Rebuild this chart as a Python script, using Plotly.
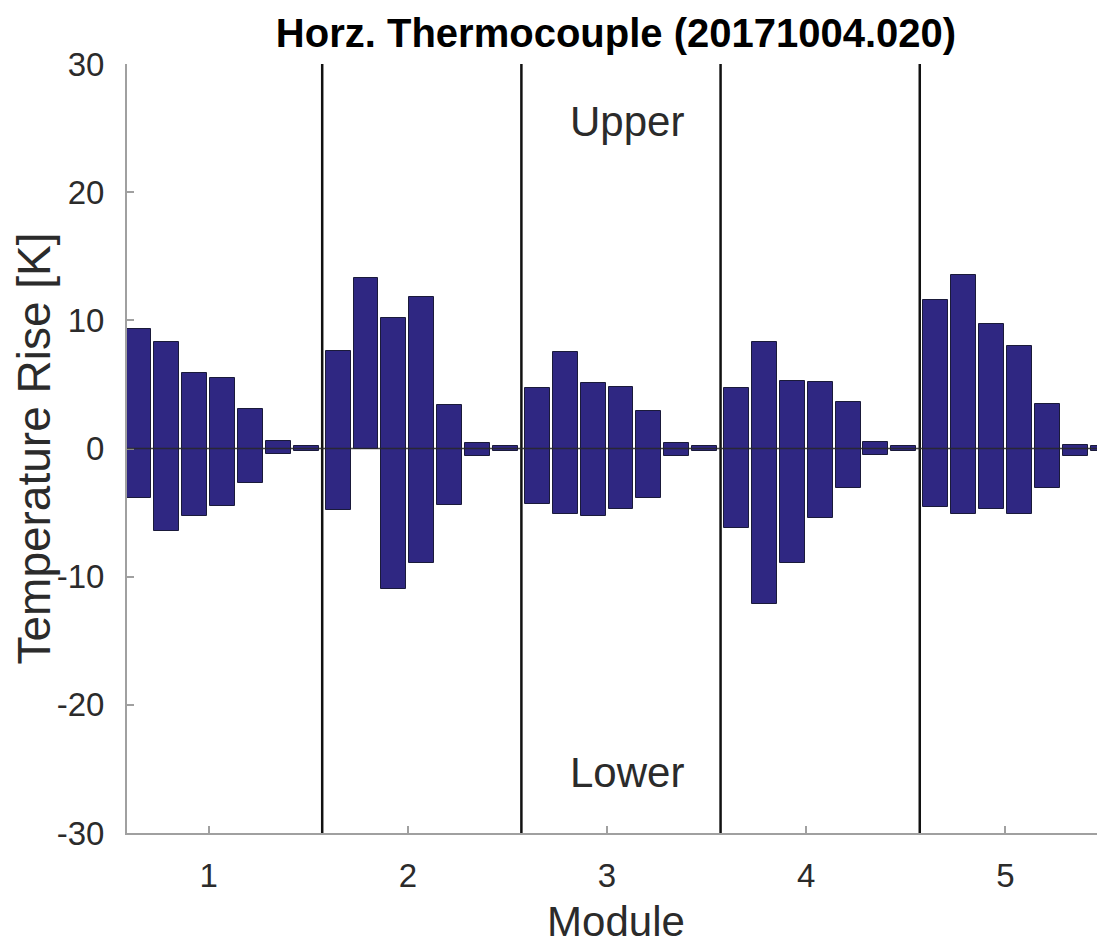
import plotly.graph_objects as go

modules = [1, 2, 3, 4, 5]
module_labels = ["1", "2", "3", "4", "5"]
y_ticks = [-30, -20, -10, 0, 10, 20, 30]
y_tick_labels = ["-30", "-20", "-10", "0", "10", "20", "30"]

upper_m1 = [9.3, 8.3, 5.9, 5.5, 3.1, 0.6, 0.2]
lower_m1 = [-3.9, -6.4, -5.3, -4.5, -2.7, -0.4, -0.2]
upper_m2 = [7.6, 13.3, 10.2, 11.8, 3.4, 0.4, 0.2]
lower_m2 = [-4.8, 0.0, -11.0, -8.9, -4.4, -0.6, -0.2]
upper_m3 = [4.7, 7.5, 5.1, 4.8, 2.9, 0.4, 0.2]
lower_m3 = [-4.3, -5.1, -5.3, -4.7, -3.9, -0.6, -0.2]
upper_m4 = [4.7, 8.3, 5.3, 5.2, 3.6, 0.5, 0.2]
lower_m4 = [-6.2, -12.1, -8.9, -5.4, -3.1, -0.5, -0.2]
upper_m5 = [11.6, 13.5, 9.7, 8.0, 3.5, 0.3, 0.2]
lower_m5 = [-4.6, -5.1, -4.7, -5.1, -3.1, -0.6, -0.2]

uppers = [upper_m1, upper_m2, upper_m3, upper_m4, upper_m5]
lowers = [lower_m1, lower_m2, lower_m3, lower_m4, lower_m5]

xs, bases, heights = [], [], []
for m, up, lo in zip(modules, uppers, lowers):
    for i, (u, l) in enumerate(zip(up, lo)):
        xs.append(m - 0.35 + 0.14 * i)
        bases.append(l)
        heights.append(u - l)

FONT = "Liberation Sans, Arial, Helvetica, sans-serif"
TXT = "#2b2b2b"
AX = "#a0a0a0"

fig = go.Figure()
fig.add_trace(go.Bar(
    x=xs, y=heights, base=bases, width=0.125,
    marker=dict(color="#2F2782", line=dict(color="#1a1a3a", width=1)),
    showlegend=False, hoverinfo="skip",
))

shapes = []
for m in modules[:-1]:
    shapes.append(dict(type="line", xref="x", yref="y", x0=m + 0.57, x1=m + 0.57,
                       y0=-30, y1=30, line=dict(color="#111111", width=2.5), layer="above"))
shapes.append(dict(type="line", xref="paper", yref="y", x0=0, x1=1, y0=0, y1=0,
                   line=dict(color="rgba(40,40,40,0.85)", width=1.5), layer="above"))

W, H = 1097, 937
ML, MT, MB = 119, 56, 112

fig.update_layout(
    width=W, height=H,
    margin=dict(l=ML, r=0, t=MT, b=MB),
    paper_bgcolor="white", plot_bgcolor="white",
    bargap=0,
    shapes=shapes,
    title=dict(text="<b>Horz. Thermocouple (20171004.020)</b>",
               x=(ML + W) / 2 / W, xanchor="center", y=1 - 25 / H, yanchor="middle",
               font=dict(family=FONT, size=40, color="#000000")),
    annotations=[
        dict(x=3.1, y=25.5, xref="x", yref="y", text="Upper", showarrow=False,
             font=dict(family=FONT, size=42, color=TXT)),
        dict(x=3.1, y=-25.3, xref="x", yref="y", text="Lower", showarrow=False,
             font=dict(family=FONT, size=42, color=TXT)),
    ],
    xaxis=dict(range=[0.59, 5.5], tickvals=modules, ticktext=module_labels,
               showgrid=False, zeroline=False, showline=True, linecolor=AX, linewidth=2,
               ticks="inside", ticklen=7, tickcolor=AX, tickwidth=1.5,
               ticklabelstandoff=12,
               tickfont=dict(family=FONT, size=33, color=TXT),
               title=dict(text="Module", font=dict(family=FONT, size=42, color=TXT), standoff=16)),
    yaxis=dict(range=[-30, 30], tickvals=y_ticks, ticktext=y_tick_labels,
               showgrid=False, zeroline=False, showline=True, linecolor=AX, linewidth=2,
               ticks="inside", ticklen=7, tickcolor=AX, tickwidth=1.5,
               ticklabelstandoff=14,
               tickfont=dict(family=FONT, size=33, color=TXT),
               title=dict(text="Temperature Rise [K]", font=dict(family=FONT, size=46, color=TXT), standoff=8)),
)

fig.write_html("out.html")
